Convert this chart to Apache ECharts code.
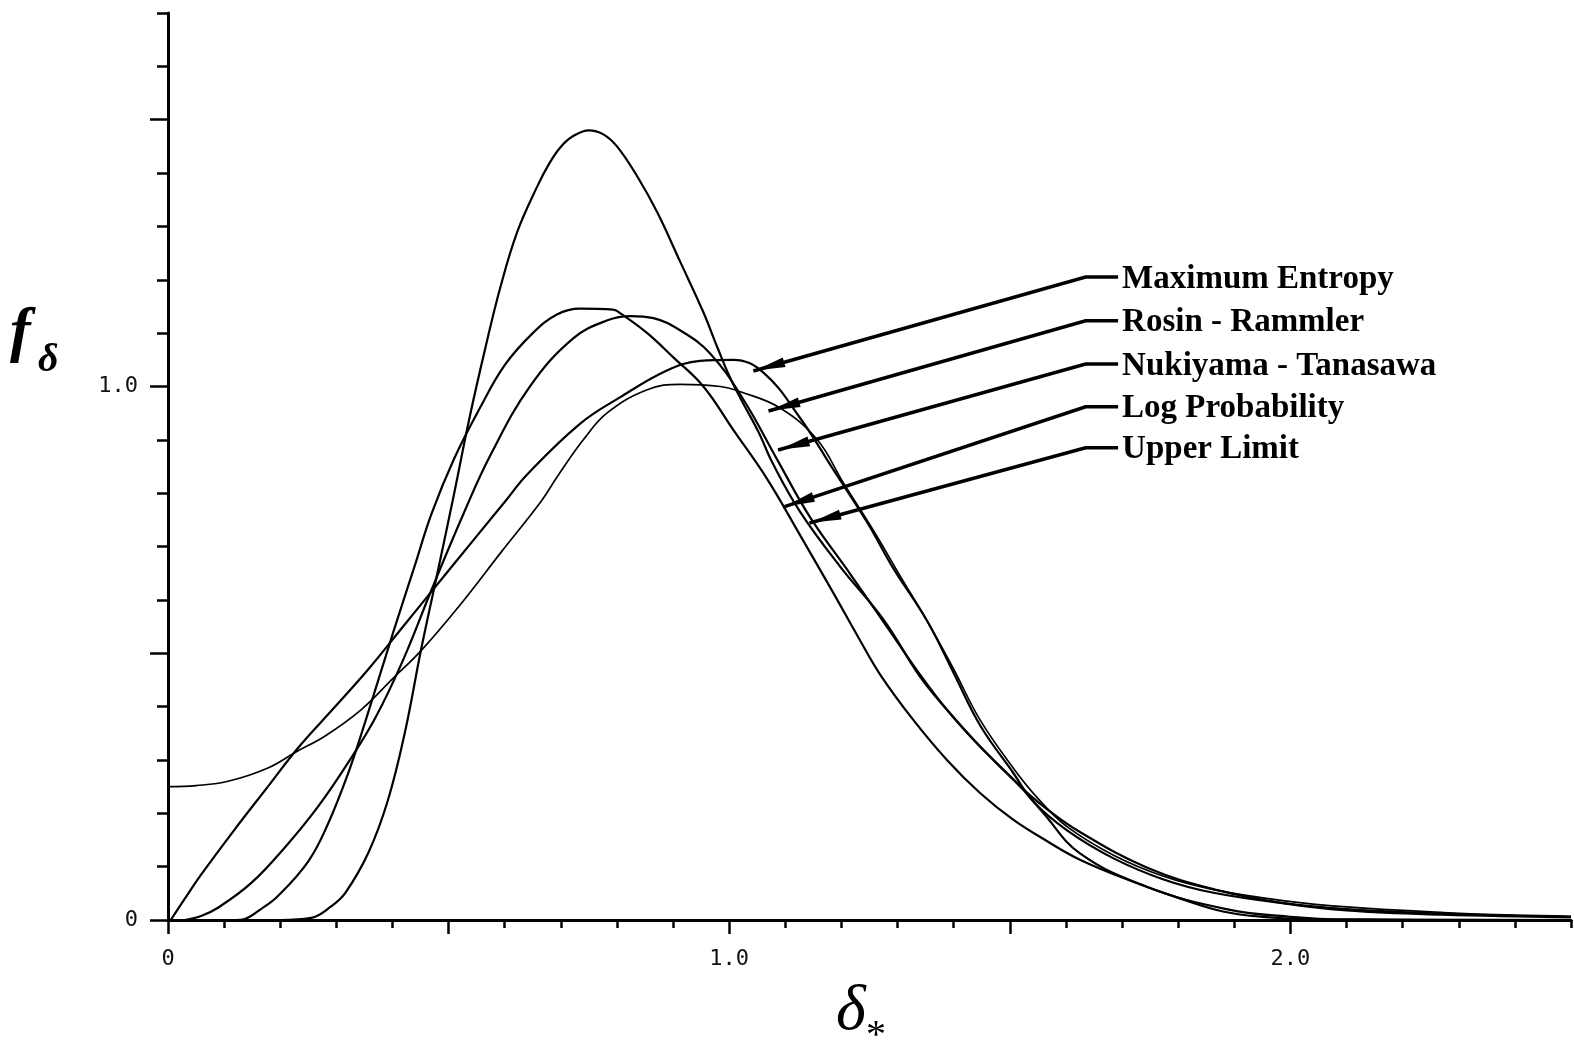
<!DOCTYPE html>
<html>
<head>
<meta charset="utf-8">
<title>f delta</title>
<script src="https://cdn.jsdelivr.net/npm/echarts@6/dist/echarts.min.js"></script>
<style>
  html, body { margin: 0; padding: 0; background: #fff; }
  #chart { width: 1574px; height: 1047px; }
</style>
</head>
<body>
<div id="chart"></div>
<script>
// curve points, [delta*, f]
var maxEntropy = [[0, 0.25], [0.05, 0.252], [0.107, 0.26], [0.178, 0.285], [0.228, 0.315], [0.28, 0.345],
  [0.344, 0.394], [0.4, 0.452], [0.451, 0.505], [0.52, 0.59], [0.594, 0.69], [0.665, 0.785], [0.693, 0.83],
  [0.74, 0.9], [0.783, 0.951], [0.854, 0.994], [0.913, 1.004], [0.984, 1.0], [1.02, 0.99], [1.09, 0.96],
  [1.157, 0.9], [1.203, 0.82], [1.257, 0.73], [1.305, 0.644], [1.353, 0.56], [1.4, 0.47], [1.447, 0.375],
  [1.506, 0.285], [1.55, 0.228], [1.602, 0.175], [1.684, 0.122], [1.774, 0.082], [1.863, 0.057],
  [1.99, 0.036], [2.107, 0.024], [2.273, 0.014], [2.4, 0.009], [2.5, 0.007]]
var rosinRammler = [[0.005, 0], [0.03, 0.04], [0.059, 0.085], [0.119, 0.17], [0.178, 0.25], [0.232, 0.323],
  [0.298, 0.4], [0.357, 0.47], [0.415, 0.545], [0.5, 0.655], [0.601, 0.785], [0.64, 0.835], [0.734, 0.93],
  [0.806, 0.98], [0.889, 1.03], [0.948, 1.048], [1.007, 1.05], [1.061, 1.026], [1.127, 0.94], [1.185, 0.845],
  [1.246, 0.745], [1.292, 0.66], [1.353, 0.56], [1.399, 0.465], [1.447, 0.365], [1.506, 0.276], [1.542, 0.222],
  [1.602, 0.168], [1.684, 0.116], [1.774, 0.076], [1.863, 0.051], [1.99, 0.031], [2.107, 0.02], [2.273, 0.012],
  [2.4, 0.008], [2.5, 0.006]]
var nukiyamaTanasawa = [[0.03, 0], [0.06, 0.008], [0.089, 0.023], [0.148, 0.069], [0.209, 0.137], [0.267, 0.212],
  [0.321, 0.295], [0.37, 0.38], [0.42, 0.49], [0.47, 0.62], [0.526, 0.76], [0.574, 0.87], [0.645, 1.0],
  [0.722, 1.09], [0.783, 1.124], [0.824, 1.132], [0.865, 1.128], [0.913, 1.105], [0.966, 1.062], [1.025, 0.976],
  [1.086, 0.862], [1.144, 0.755], [1.216, 0.648], [1.282, 0.548], [1.34, 0.46], [1.388, 0.394], [1.447, 0.325],
  [1.519, 0.25], [1.56, 0.213], [1.625, 0.165], [1.745, 0.098], [1.87, 0.056], [1.99, 0.031], [2.1, 0.018],
  [2.27, 0.01], [2.5, 0.005]]
var logProbability = [[0, 0], [0.2, 0], [0.255, 0.004], [0.29, 0.025], [0.316, 0.051], [0.357, 0.126],
  [0.392, 0.225], [0.422, 0.351], [0.451, 0.507], [0.48, 0.65], [0.51, 0.8], [0.537, 0.94], [0.565, 1.07],
  [0.592, 1.185], [0.622, 1.289], [0.658, 1.375], [0.68, 1.419], [0.699, 1.448], [0.72, 1.468], [0.75, 1.48],
  [0.775, 1.473], [0.8, 1.45], [0.836, 1.394], [0.872, 1.326], [0.913, 1.233], [0.954, 1.139], [0.979, 1.073],
  [1.0, 1.02], [1.021, 0.976], [1.052, 0.915], [1.078, 0.855], [1.127, 0.764], [1.198, 0.662], [1.275, 0.563],
  [1.34, 0.456], [1.388, 0.394], [1.447, 0.325], [1.519, 0.25], [1.56, 0.2], [1.625, 0.125], [1.745, 0.062],
  [1.888, 0.02], [2.0, 0.006], [2.1, 0.001], [2.5, 0]]
var upperLimit = [[0, 0], [0.12, 0], [0.137, 0.002], [0.165, 0.02], [0.196, 0.045], [0.25, 0.11], [0.285, 0.18],
  [0.321, 0.275], [0.351, 0.37], [0.4, 0.535], [0.44, 0.665], [0.469, 0.76], [0.51, 0.865], [0.556, 0.96],
  [0.6, 1.04], [0.65, 1.1], [0.693, 1.135], [0.734, 1.146], [0.793, 1.144], [0.809, 1.135], [0.854, 1.1],
  [0.9, 1.055], [0.954, 1.0], [1.007, 0.919], [1.068, 0.826], [1.127, 0.72], [1.185, 0.614], [1.23, 0.53],
  [1.269, 0.46], [1.328, 0.375], [1.388, 0.3], [1.447, 0.238], [1.506, 0.188], [1.566, 0.148], [1.625, 0.113],
  [1.714, 0.074], [1.804, 0.04], [1.88, 0.016], [1.95, 0.006], [2.05, 0.001], [2.5, 0]]

// labels with arrows: tip on the curve, then a bend, then the text
var annoNames = ['Maximum Entropy', 'Rosin - Rammler', 'Nukiyama - Tanasawa', 'Log Probability', 'Upper Limit']
var annoTipX = [1.043, 1.070, 1.087, 1.096, 1.143]
var annoTipY = [1.029, 0.954, 0.881, 0.774, 0.744]
var annoLabelY = [1.205, 1.123, 1.042, 0.962, 0.885]
var annoBendX = 1.635
var annoEndX = 1.693

// tick marks / labels
var xMajorTicks = [0, 0.5, 1, 1.5, 2]
var xLabelValues = [0, 1, 2]
var yMajorTicks = [0, 0.5, 1, 1.5]
var yLabelValues = [0, 1]

function tickText(v) {
  return v === 0 ? '0' : v.toFixed(1)
}

function curve(name, data, width) {
  return {
    name: name,
    type: 'line',
    data: data,
    smooth: 0.4,
    symbol: 'none',
    silent: true,
    lineStyle: { color: '#000', width: width }
  }
}

function getAnnoData() {
  var out = []
  annoNames.forEach(function (value, index) {
    out.push([annoTipX[index], annoTipY[index], annoBendX, annoLabelY[index], annoEndX])
  })
  return out
}

function renderAnno(params, api) {
  var tip = api.coord([api.value(0), api.value(1)])
  var bend = api.coord([api.value(2), api.value(3)])
  var end = api.coord([api.value(4), api.value(3)])
  var dx = bend[0] - tip[0], dy = bend[1] - tip[1]
  var len = Math.sqrt(dx * dx + dy * dy)
  var ux = dx / len, uy = dy / len, nx = -uy, ny = ux
  var head = [
    [tip[0] + ux * 2, tip[1] + uy * 2],
    [tip[0] + ux * 32 + nx * 5, tip[1] + uy * 32 + ny * 5],
    [tip[0] + ux * 32 - nx * 5, tip[1] + uy * 32 - ny * 5]
  ]
  return {
    type: 'group',
    children: [
      { type: 'polyline', shape: { points: [tip, bend, end] }, style: { stroke: '#000', lineWidth: 3.5, fill: null } },
      { type: 'polygon', shape: { points: head }, style: { fill: '#000' } },
      {
        type: 'text', x: end[0] + 4, y: end[1] + 2,
        style: { text: annoNames[params.dataIndex], font: 'bold 33px "Liberation Serif"', fill: '#000', align: 'left', verticalAlign: 'middle' }
      }
    ]
  }
}

// axis names (f_delta on the left, delta_* under the x axis)
function axisName(text, x, y, font) {
  return { type: 'text', x: x, y: y, style: { text: text, font: font, fill: '#000', align: 'left', verticalAlign: 'middle' } }
}

var axisFont = { fontFamily: 'DejaVu Sans Mono', fontSize: 22, color: '#111' }

var chart = echarts.init(document.getElementById('chart'), null, { renderer: 'canvas' })
chart.setOption({
  backgroundColor: '#fff',
  animation: false,
  grid: { left: 168, right: 3, top: 13, bottom: 127 },
  xAxis: [
    {
      type: 'value', min: 0, max: 2.5, interval: 0.1,
      axisLine: { lineStyle: { color: '#000', width: 3 } },
      axisTick: { length: 8, lineStyle: { color: '#000', width: 2.5 } },
      axisLabel: Object.assign({ customValues: xLabelValues, formatter: tickText, margin: 28 }, axisFont),
      splitLine: { show: false }
    },
    {
      type: 'value', min: 0, max: 2.5, position: 'bottom',
      axisLine: { show: false },
      axisTick: { customValues: xMajorTicks, length: 14, lineStyle: { color: '#000', width: 2.5 } },
      axisLabel: { show: false },
      splitLine: { show: false }
    }
  ],
  yAxis: [
    {
      type: 'value', min: 0, max: 1.7, interval: 0.1,
      axisLine: { show: true, lineStyle: { color: '#000', width: 3 } },
      axisTick: { show: true, length: 11, lineStyle: { color: '#000', width: 2.5 } },
      axisLabel: Object.assign({ customValues: yLabelValues, formatter: tickText, margin: 30 }, axisFont),
      splitLine: { show: false }
    },
    {
      type: 'value', min: 0, max: 1.7, position: 'left',
      axisLine: { show: false },
      axisTick: { show: true, customValues: yMajorTicks, length: 18, lineStyle: { color: '#000', width: 2.5 } },
      axisLabel: { show: false },
      splitLine: { show: false }
    }
  ],
  series: [
    curve('Maximum Entropy', maxEntropy, 1.7),
    curve('Rosin - Rammler', rosinRammler, 2.2),
    curve('Nukiyama - Tanasawa', nukiyamaTanasawa, 2.2),
    curve('Log Probability', logProbability, 2.2),
    curve('Upper Limit', upperLimit, 2.2),
    {
      type: 'custom',
      silent: true,
      renderItem: renderAnno,
      data: getAnnoData(),
      z: 5
    }
  ],
  graphic: [
    axisName('f', 10, 334, 'bold italic 62px "Liberation Serif"'),
    axisName('δ', 38, 361, 'bold italic 40px "Liberation Serif"'),
    axisName('δ', 836, 1012, 'italic 64px "Liberation Serif"'),
    axisName('*', 866, 1036, '40px "Liberation Serif"')
  ]
})
</script>
</body>
</html>
